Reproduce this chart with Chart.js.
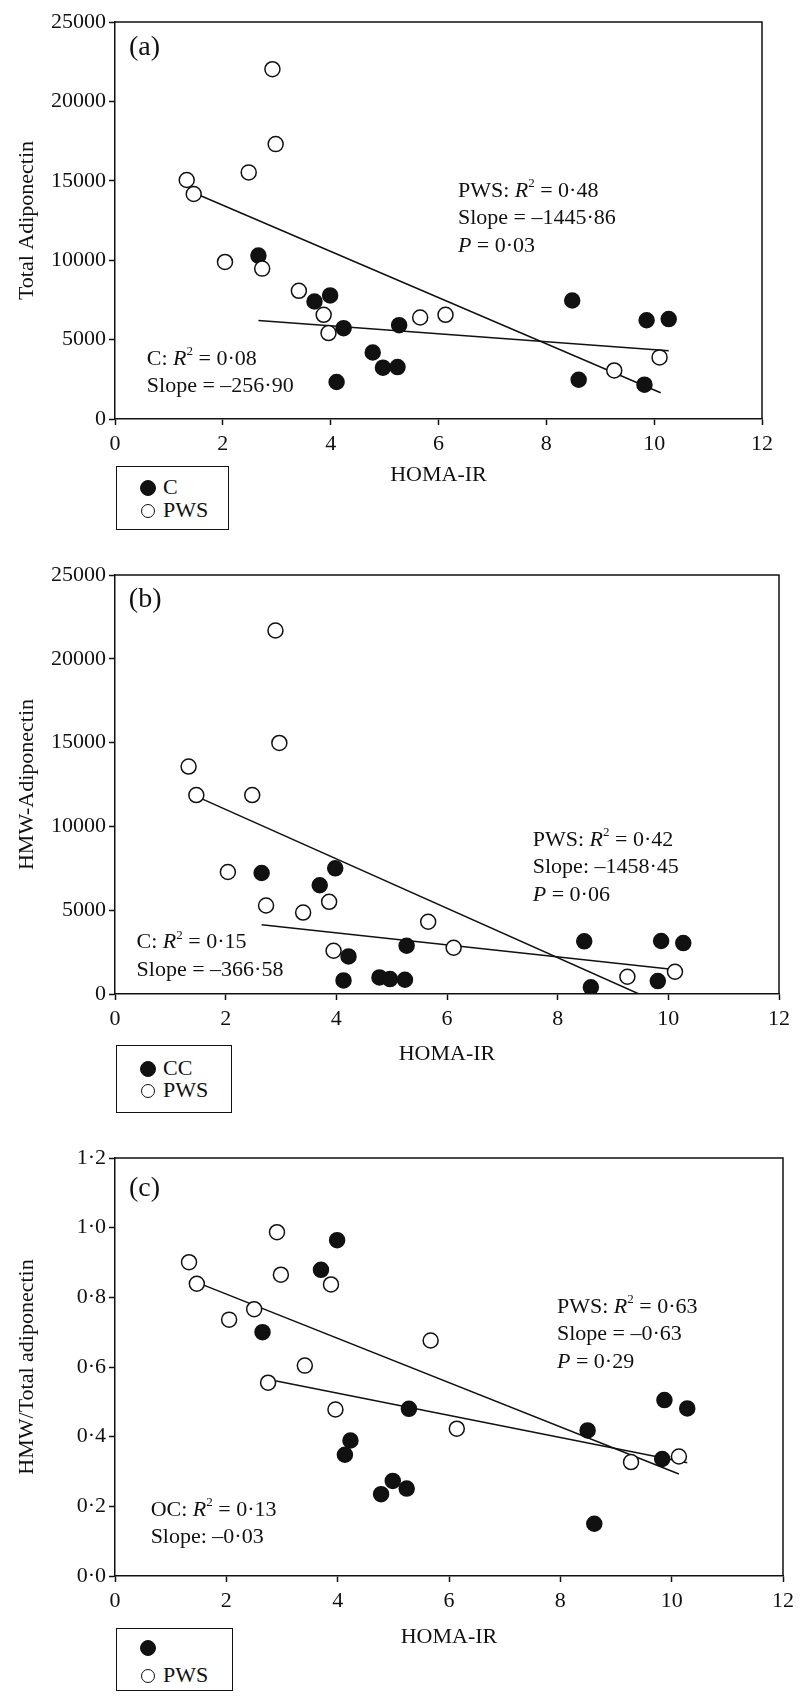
<!DOCTYPE html>
<html><head><meta charset="utf-8">
<script src="https://cdn.jsdelivr.net/npm/chart.js@4.4.1/dist/chart.umd.min.js"></script>
<style>
body{margin:0;background:#fff;width:800px;height:1703px;position:relative;overflow:hidden;font-family:"Liberation Serif","Times New Roman",serif;}
canvas{position:absolute;left:0;}
.legend{position:absolute;border:1.5px solid #111;background:#fff;box-sizing:border-box;}
.li{position:absolute;font-size:22px;line-height:22px;color:#111;white-space:nowrap;}
.dot{position:absolute;border-radius:50%;box-sizing:border-box;border:1.5px solid #111;}
</style></head><body>
<canvas id="ca" width="800" height="488" style="top:0px"></canvas>
<canvas id="cb" width="800" height="527" style="top:540px"></canvas>
<canvas id="cc" width="800" height="530" style="top:1120px"></canvas>
<script>
// ---------- data ----------
const xTicks = [0, 2, 4, 6, 8, 10, 12];
const xTitle = 'HOMA-IR';

// Panel (a) Total adiponectin
const aTitle = 'Total Adiponectin';
const aPwsX = [1.33, 1.46, 2.92, 2.98, 2.48, 2.04, 2.73, 3.41, 3.87, 3.96, 5.66, 6.13, 9.26, 10.10];
const aPwsY = [15050, 14170, 22030, 17310, 15530, 9890, 9470, 8070, 6560, 5410, 6390, 6560, 3060, 3880];
const aCX = [2.66, 3.70, 3.99, 4.24, 4.11, 4.78, 4.97, 5.24, 5.27, 8.48, 8.60, 9.82, 9.86, 10.27];
const aCY = [10290, 7400, 7780, 5720, 2330, 4190, 3230, 3270, 5910, 7460, 2470, 2160, 6220, 6290];
const aPwsFitX = [1.46, 10.12];
const aPwsFitY = [14250, 1650];
const aCFitX = [2.66, 10.27];
const aCFitY = [6200, 4300];
const aYTicks = [0, 5000, 10000, 15000, 20000, 25000];
const aLegend = ['C', 'PWS'];

// Panel (b) HMW adiponectin
const bTitle = 'HMW-Adiponectin';
const bPwsX = [1.33, 1.47, 2.90, 2.97, 2.48, 2.04, 2.73, 3.40, 3.87, 3.95, 5.66, 6.12, 9.26, 10.12];
const bPwsY = [13570, 11870, 21690, 14980, 11870, 7280, 5280, 4860, 5500, 2580, 4310, 2760, 1030, 1330];
const bCX = [2.65, 3.70, 3.98, 4.22, 4.13, 4.78, 4.97, 5.24, 5.27, 8.48, 8.60, 9.81, 9.87, 10.27];
const bCY = [7220, 6490, 7500, 2240, 810, 990, 890, 850, 2880, 3140, 400, 770, 3160, 3040];
const bPwsFitX = [1.47, 9.47];
const bPwsFitY = [11790, 0];
const bCFitX = [2.65, 10.10];
const bCFitY = [4130, 1460];
const bYTicks = [0, 5000, 10000, 15000, 20000, 25000];
const bLegend = ['CC', 'PWS'];

// Panel (c) HMW / total ratio
const cTitle = 'HMW/Total adiponectin';
const cPwsX = [1.33, 1.47, 2.91, 2.98, 2.50, 2.05, 2.75, 3.41, 3.88, 3.96, 5.67, 6.14, 9.27, 10.13];
const cPwsY = [0.901, 0.839, 0.987, 0.865, 0.766, 0.736, 0.555, 0.604, 0.837, 0.478, 0.676, 0.423, 0.327, 0.343];
const cCX = [2.65, 3.70, 3.99, 4.23, 4.13, 4.78, 4.99, 5.24, 5.28, 8.49, 8.61, 9.83, 9.87, 10.28];
const cCY = [0.700, 0.879, 0.964, 0.389, 0.348, 0.235, 0.273, 0.251, 0.480, 0.418, 0.150, 0.336, 0.505, 0.481];
const cPwsFitX = [1.47, 10.13];
const cPwsFitY = [0.843, 0.293];
const cCFitX = [2.65, 10.28];
const cCFitY = [0.568, 0.325];
const cYTicks = [0, 0.2, 0.4, 0.6, 0.8, 1.0, 1.2];
const cLegend = ['', 'PWS'];

// annotation texts: [text, style] style: i = italic, s = superscript
const aText = {
  tag: [['(a)']],
  pws: [[['PWS: '], ['R', 'i'], ['2', 's'], [' = 0·48']], [['Slope = –1445·86']], [['P', 'i'], [' = 0·03']]],
  c: [[['C: '], ['R', 'i'], ['2', 's'], [' = 0·08']], [['Slope = –256·90']]]
};
const bText = {
  tag: [['(b)']],
  pws: [[['PWS: '], ['R', 'i'], ['2', 's'], [' = 0·42']], [['Slope: –1458·45']], [['P', 'i'], [' = 0·06']]],
  c: [[['C: '], ['R', 'i'], ['2', 's'], [' = 0·15']], [['Slope = –366·58']]]
};
const cText = {
  tag: [['(c)']],
  pws: [[['PWS: '], ['R', 'i'], ['2', 's'], [' = 0·63']], [['Slope = –0·63']], [['P', 'i'], [' = 0·29']]],
  c: [[['OC: '], ['R', 'i'], ['2', 's'], [' = 0·13']], [['Slope: –0·03']]]
};

// ---------- layout / style (kept apart from data) ----------
const FONT = '"Liberation Serif","Times New Roman",serif';
const INK = '#111';
const layoutA = { padTop: 22, padRight: 38, xH: 69, tagPos: [0.26, 23390], pwsPos: [6.36, [14350, 12640, 10860]], cPos: [0.59, [3770, 2050]] };
const layoutB = { padTop: 35, padRight: 21, xH: 73, tagPos: [0.25, 23510], pwsPos: [7.55, [9170, 7540, 5890]], cPos: [0.39, [3080, 1390]] };
const layoutC = { padTop: 38, padRight: 17, xH: 74, tagPos: [0.25, 1.113], pwsPos: [7.94, [0.773, 0.694, 0.615]], cPos: [0.64, [0.189, 0.111]] };

function pts(xs, ys) { return xs.map((x, i) => ({ x: x, y: ys[i] })); }

function drawRich(ctx, parts, x, y, size) {
  let cx = x;
  parts.forEach(p => {
    const txt = p[0], st = p[1] || '';
    let fs = size, dy = 0, style = '';
    if (st === 'i') style = 'italic ';
    if (st === 's') { fs = Math.round(size * 0.6); dy = -size * 0.33; }
    ctx.font = style + fs + 'px ' + FONT;
    ctx.fillText(txt, cx, y + dy);
    cx += ctx.measureText(txt).width;
  });
}

const framePlugin = {
  id: 'frame',
  afterDraw(chart) {
    const a = chart.chartArea, ctx = chart.ctx;
    ctx.save();
    ctx.strokeStyle = INK; ctx.lineWidth = 1.5;
    ctx.beginPath();
    ctx.moveTo(a.left, a.top); ctx.lineTo(a.right, a.top); ctx.lineTo(a.right, a.bottom);
    ctx.stroke();
    ctx.restore();
  }
};

const notesPlugin = {
  id: 'notes',
  afterDraw(chart, args, opts) {
    const ctx = chart.ctx, xs = chart.scales.x, ys = chart.scales.y;
    const L = opts.layout, T = opts.text;
    ctx.save();
    ctx.fillStyle = INK; ctx.textBaseline = 'middle'; ctx.textAlign = 'left';
    drawRich(ctx, T.tag[0] ? [T.tag[0]] : [], xs.getPixelForValue(L.tagPos[0]), ys.getPixelForValue(L.tagPos[1]), 28);
    T.pws.forEach((line, i) => drawRich(ctx, line, xs.getPixelForValue(L.pwsPos[0]), ys.getPixelForValue(L.pwsPos[1][i]), 22));
    T.c.forEach((line, i) => drawRich(ctx, line, xs.getPixelForValue(L.cPos[0]), ys.getPixelForValue(L.cPos[1][i]), 22));
    ctx.restore();
  }
};

function makeChart(id, p) {
  const ctx = document.getElementById(id);
  return new Chart(ctx, {
    type: 'scatter',
    data: {
      datasets: [
        { label: 'PWS', data: pts(p.pwsX, p.pwsY), pointRadius: 7.5, pointBorderWidth: 1.5, pointBackgroundColor: '#fff', pointBorderColor: INK, backgroundColor: '#fff', borderColor: INK },
        { label: 'C', data: pts(p.cX, p.cY), pointRadius: 7.5, pointBorderWidth: 1.5, pointBackgroundColor: INK, pointBorderColor: INK, backgroundColor: INK, borderColor: INK },
        { label: 'PWS fit', data: pts(p.pwsFitX, p.pwsFitY), showLine: true, pointRadius: 0, borderColor: INK, borderWidth: 1.5, fill: false },
        { label: 'C fit', data: pts(p.cFitX, p.cFitY), showLine: true, pointRadius: 0, borderColor: INK, borderWidth: 1.5, fill: false }
      ]
    },
    options: {
      responsive: false, animation: false, devicePixelRatio: 1,
      layout: { padding: { top: p.L.padTop, right: p.L.padRight, left: 0, bottom: 0 } },
      plugins: { legend: { display: false }, tooltip: { enabled: false }, notes: { layout: p.L, text: p.text } },
      scales: {
        x: {
          type: 'linear', min: xTicks[0], max: xTicks[xTicks.length - 1],
          afterBuildTicks: s => { s.ticks = xTicks.map(v => ({ value: v })); },
          afterFit: s => { s.height = p.L.xH; },
          border: { display: true, color: INK, width: 1.5 },
          grid: { display: true, drawOnChartArea: false, drawTicks: true, tickLength: 6, tickColor: INK, tickWidth: 1.5 },
          ticks: { color: INK, padding: 6, font: { family: FONT, size: 22 }, callback: v => String(v) },
          title: { display: true, text: xTitle, color: INK, font: { family: FONT, size: 22 }, padding: { top: 0, bottom: 0 } }
        },
        y: {
          type: 'linear', min: p.yTicks[0], max: p.yTicks[p.yTicks.length - 1],
          afterBuildTicks: s => { s.ticks = p.yTicks.map(v => ({ value: v })); },
          afterFit: s => { s.width = 115; },
          border: { display: true, color: INK, width: 1.5 },
          grid: { display: true, drawOnChartArea: false, drawTicks: true, tickLength: 6, tickColor: INK, tickWidth: 1.5 },
          ticks: { color: INK, padding: 3, font: { family: FONT, size: 22 }, callback: p.fmt },
          title: { display: true, text: p.yTitle, color: INK, font: { family: FONT, size: 22 }, padding: { top: 14, bottom: 0 } }
        }
      }
    },
    plugins: [framePlugin, notesPlugin]
  });
}

const intFmt = v => String(v);
const dotFmt = v => Number(v).toFixed(1).replace('.', '·');

makeChart('ca', { pwsX: aPwsX, pwsY: aPwsY, cX: aCX, cY: aCY, pwsFitX: aPwsFitX, pwsFitY: aPwsFitY, cFitX: aCFitX, cFitY: aCFitY, yTicks: aYTicks, yTitle: aTitle, fmt: intFmt, L: layoutA, text: aText });
makeChart('cb', { pwsX: bPwsX, pwsY: bPwsY, cX: bCX, cY: bCY, pwsFitX: bPwsFitX, pwsFitY: bPwsFitY, cFitX: bCFitX, cFitY: bCFitY, yTicks: bYTicks, yTitle: bTitle, fmt: intFmt, L: layoutB, text: bText });
makeChart('cc', { pwsX: cPwsX, pwsY: cPwsY, cX: cCX, cY: cCY, pwsFitX: cPwsFitX, pwsFitY: cPwsFitY, cFitX: cCFitX, cFitY: cCFitY, yTicks: cYTicks, yTitle: cTitle, fmt: dotFmt, L: layoutC, text: cText });

// ---------- HTML legends ----------
const legendBoxes = [
  { labels: aLegend, left: 116, top: 466, w: 113, h: 64, rows: [21, 44] },
  { labels: bLegend, left: 116, top: 1045, w: 116, h: 68, rows: [23, 45] },
  { labels: cLegend, left: 116, top: 1628, w: 117, h: 63, rows: [19, 47] }
];
legendBoxes.forEach(b => {
  const box = document.createElement('div');
  box.className = 'legend';
  Object.assign(box.style, { left: b.left + 'px', top: b.top + 'px', width: b.w + 'px', height: b.h + 'px' });
  b.labels.forEach((lab, i) => {
    const filled = i === 0;
    const d = document.createElement('div');
    d.className = 'dot';
    const sz = filled ? 16 : 14;
    Object.assign(d.style, { width: sz + 'px', height: sz + 'px', left: (31 - sz / 2) + 'px', top: (b.rows[i] - sz / 2) + 'px', background: filled ? INK : '#fff' });
    box.appendChild(d);
    if (lab) {
      const t = document.createElement('div');
      t.className = 'li';
      t.textContent = lab;
      Object.assign(t.style, { left: '46px', top: (b.rows[i] - 12) + 'px' });
      box.appendChild(t);
    }
  });
  document.body.appendChild(box);
});
</script>
</body></html>
